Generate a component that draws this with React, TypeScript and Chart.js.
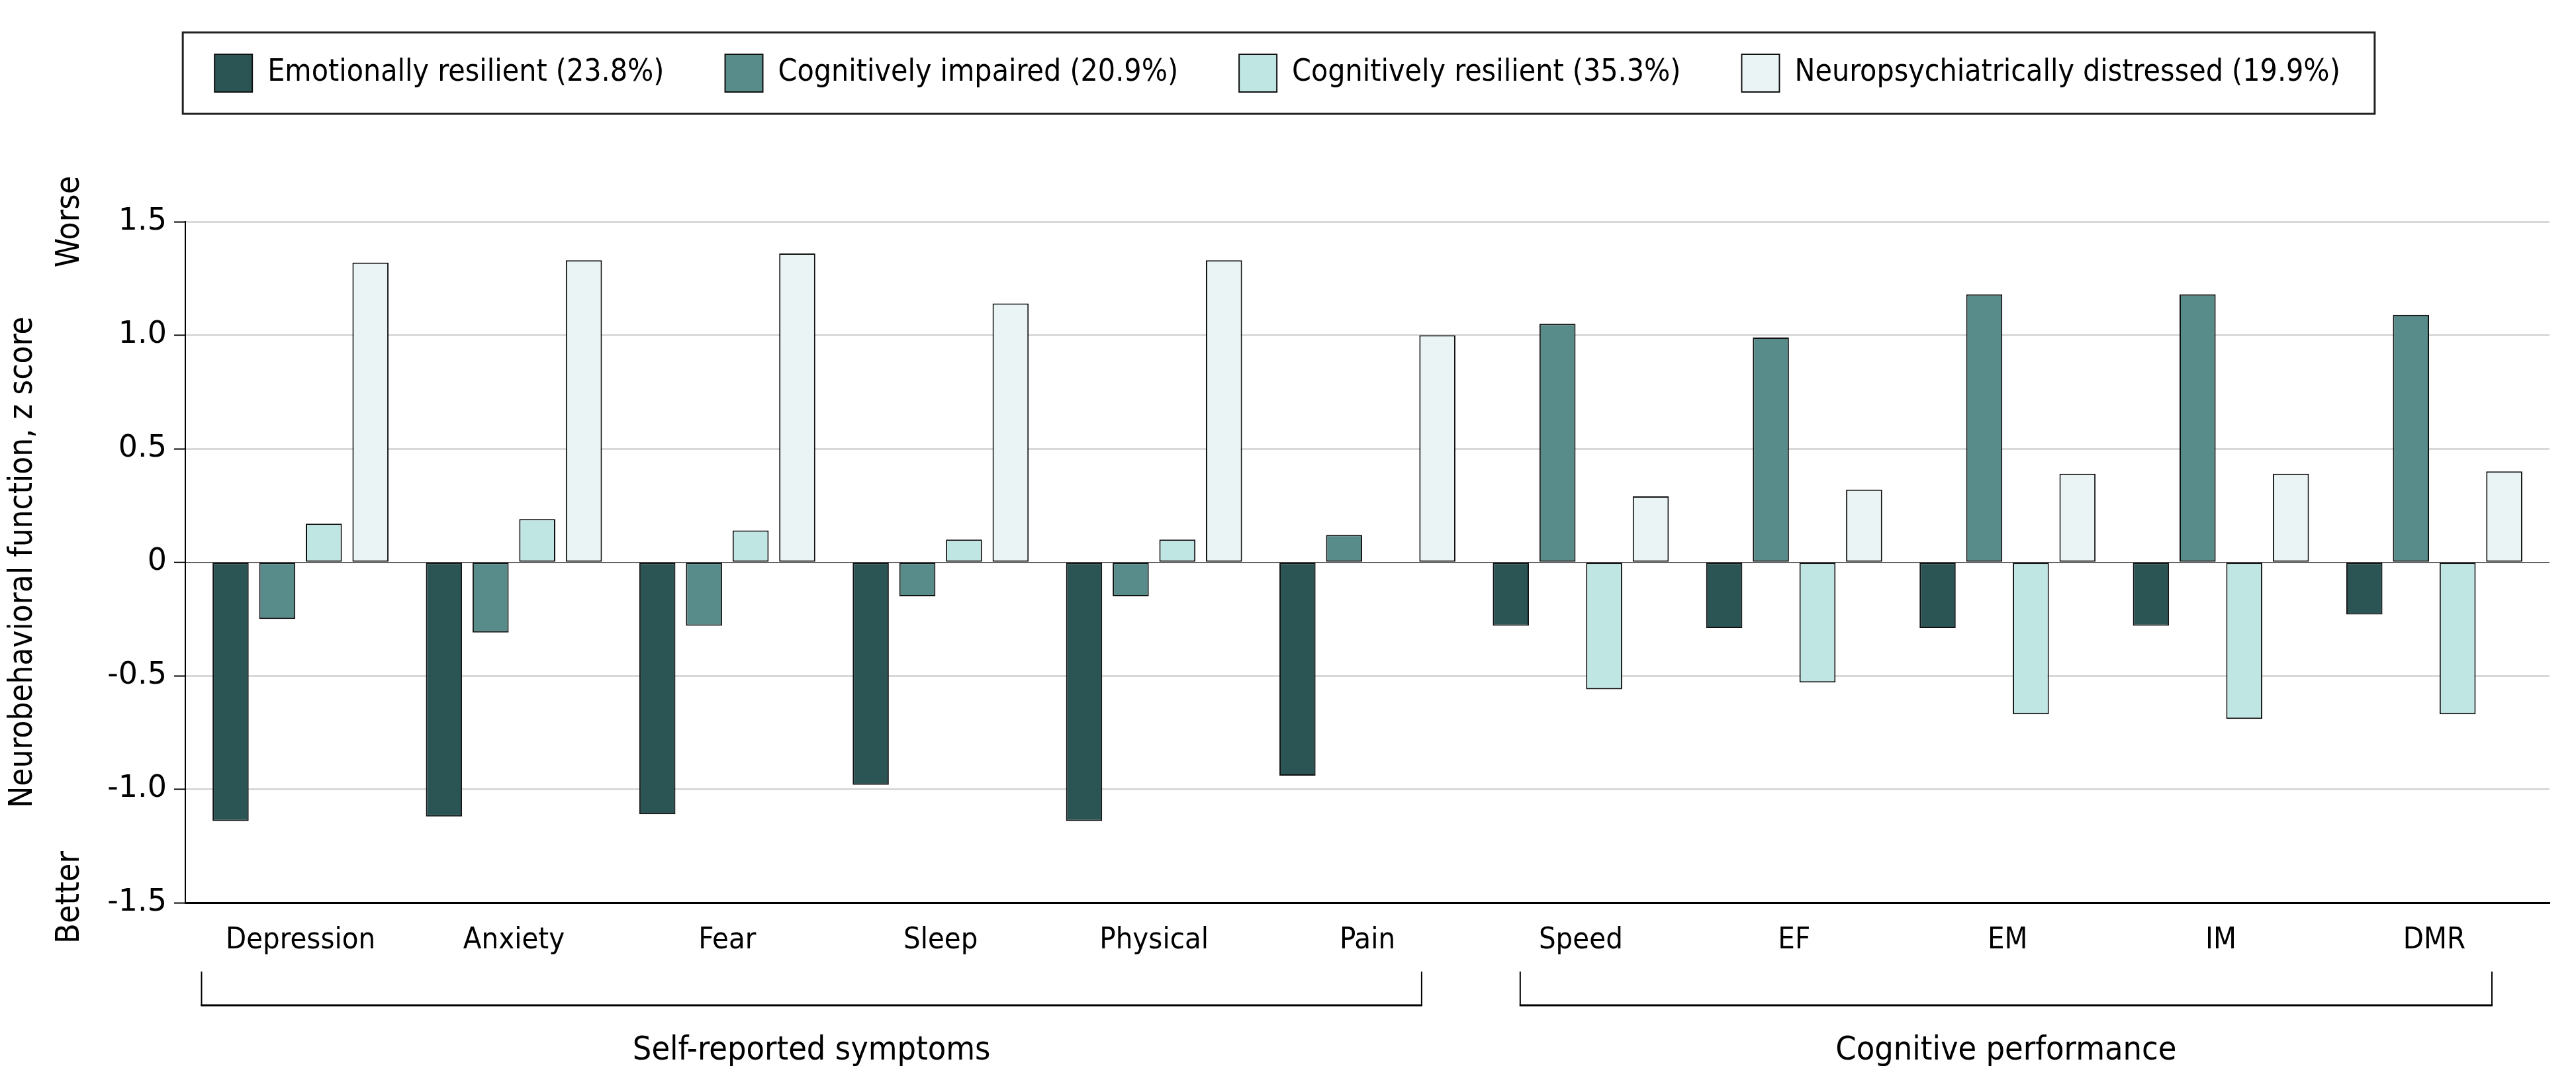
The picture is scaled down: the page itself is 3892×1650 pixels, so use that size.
import React, { useEffect, useRef } from 'react';
import { Chart, registerables } from 'chart.js';

Chart.register(...registerables);

// ---------------- data ----------------
const categories = ['Depression', 'Anxiety', 'Fear', 'Sleep', 'Physical', 'Pain', 'Speed', 'EF', 'EM', 'IM', 'DMR'];
const seriesNames = [
  'Emotionally resilient (23.8%)',
  'Cognitively impaired (20.9%)',
  'Cognitively resilient (35.3%)',
  'Neuropsychiatrically distressed (19.9%)',
];
const emotionallyResilient = [-1.14, -1.12, -1.11, -0.98, -1.14, -0.94, -0.28, -0.29, -0.29, -0.28, -0.23];
const cognitivelyImpaired = [-0.25, -0.31, -0.28, -0.15, -0.15, 0.12, 1.05, 0.99, 1.18, 1.18, 1.09];
const cognitivelyResilient = [0.17, 0.19, 0.14, 0.1, 0.1, 0, -0.56, -0.53, -0.67, -0.69, -0.67];
const neuropsychDistressed = [1.32, 1.33, 1.36, 1.14, 1.33, 1.0, 0.29, 0.32, 0.39, 0.39, 0.4];
const seriesValues = [emotionallyResilient, cognitivelyImpaired, cognitivelyResilient, neuropsychDistressed];

const yTicks = [-1.5, -1, -0.5, 0, 0.5, 1, 1.5];
const yTickLabels = ['-1.5', '-1.0', '-0.5', '0', '0.5', '1.0', '1.5'];
const yAxisTitle = 'Neurobehavioral function, z score';
const directionLabels = ['Worse', 'Better'];
const groupNames = ['Self-reported symptoms', 'Cognitive performance'];

// ---------------- layout / style ----------------
const W = 3876;
const H = 1634;
const TEXT_FONT = "'DejaVu Sans Condensed', 'Liberation Sans', sans-serif";
const TICK_FONT = "'DejaVu Sans', sans-serif";
const colors = ['#2b5454', '#578c8a', '#c0e6e4', '#eaf4f4'];
const groupSpans = [
  [-0.464, 5.254],
  [5.716, 10.27],
];
const LEGEND_GAP = 92;

const decorPlugin = {
  id: 'decor',
  afterDraw(chart: any) {
    const ctx = chart.ctx;
    const xs = chart.scales.x;
    const ys = chart.scales.y;
    const area = chart.chartArea;
    ctx.save();
    // legend frame
    const boxes = chart.legend && chart.legend.legendHitBoxes;
    if (boxes && boxes.length) {
      const first = boxes[0];
      const last = boxes[boxes.length - 1];
      const cy = first.top + first.height / 2;
      const l = first.left - 48;
      const r = last.left + last.width + 52;
      ctx.strokeStyle = '#222';
      ctx.lineWidth = 3;
      ctx.strokeRect(l, cy - 61.5, r - l, 123);
    }
    // Worse / Better
    ctx.fillStyle = '#000';
    ctx.textAlign = 'center';
    ctx.textBaseline = 'middle';
    ctx.font = `50px ${TEXT_FONT}`;
    const dirVals = [1.5, -1.5];
    directionLabels.forEach((t, i) => {
      ctx.save();
      ctx.translate(98, ys.getPixelForValue(dirVals[i]) - (i === 1 ? 8 : 0));
      ctx.rotate(-Math.PI / 2);
      ctx.fillText(t, 0, 0);
      ctx.restore();
    });
    // brackets + group labels
    const top = area.bottom + 104;
    const bot = area.bottom + 155;
    groupSpans.forEach(([a, b], i) => {
      const xa = xs.getPixelForValue(a);
      const xb = xs.getPixelForValue(b);
      ctx.strokeStyle = '#000';
      ctx.lineWidth = 2;
      ctx.beginPath();
      ctx.moveTo(xa, top);
      ctx.lineTo(xa, bot);
      ctx.lineTo(xb, bot);
      ctx.lineTo(xb, top);
      ctx.stroke();
      ctx.lineWidth = 3;
      ctx.beginPath();
      ctx.moveTo(xa - 1, bot);
      ctx.lineTo(xb + 1, bot);
      ctx.stroke();
      ctx.font = `50px ${TEXT_FONT}`;
      ctx.fillText(groupNames[i], (xa + xb) / 2, area.bottom + 224);
    });
    ctx.restore();
  },
};

export default function App() {
  const ref = useRef<HTMLCanvasElement | null>(null);
  useEffect(() => {
    if (!ref.current) return;
    const chart = new Chart(ref.current, {
      type: 'bar',
      data: {
        datasets: seriesNames.map((name, k) => ({
          label: name,
          data: seriesValues[k].map((v, i) => ({ x: i, y: v })),
          backgroundColor: colors[k],
          borderColor: '#111',
          borderWidth: 2,
          borderSkipped: false,
          categoryPercentage: 0.874,
          barPercentage: 0.775,
        })),
      },
      options: {
        responsive: false,
        animation: false,
        events: [],
        layout: { padding: { top: 74 - LEGEND_GAP, left: 0, right: 32, bottom: 0 } },
        plugins: {
          legend: {
            position: 'top',
            labels: {
              boxWidth: 57,
              boxHeight: 57,
              padding: LEGEND_GAP,
              color: '#000',
              font: { family: TEXT_FONT, size: 46 },
            },
          },
          title: {
            display: true,
            text: ' ',
            weight: 500,
            position: 'top',
            padding: { top: 176, bottom: 0 },
            font: { size: 10, lineHeight: 1 },
          },
          tooltip: { enabled: false },
        },
        scales: {
          x: {
            type: 'linear',
            min: -0.54,
            max: 10.54,
            offset: false,
            afterBuildTicks: (s: any) => {
              s.ticks = categories.map((_, i) => ({ value: i }));
            },
            afterFit: (s: any) => {
              s.height = 278;
            },
            grid: { display: false, drawTicks: false },
            border: { display: true, color: '#000', width: 3 },
            ticks: {
              callback: (v: any) => categories[v] ?? '',
              autoSkip: false,
              maxRotation: 0,
              minRotation: 0,
              padding: 30,
              color: '#000',
              font: { family: TEXT_FONT, size: 45 },
            },
          },
          y: {
            min: -1.5,
            max: 1.5,
            afterBuildTicks: (s: any) => {
              s.ticks = yTicks.map((v) => ({ value: v }));
            },
            afterFit: (s: any) => {
              s.width = 272;
            },
            ticks: {
              callback: (v: any) => yTickLabels[yTicks.indexOf(v)] ?? '',
              padding: 11,
              color: '#000',
              font: { family: TICK_FONT, size: 46 },
            },
            grid: {
              color: (c: any) => (c.tick && c.tick.value === 0 ? '#3a3a3a' : '#d9d9d9'),
              lineWidth: (c: any) => (c.tick && c.tick.value === 0 ? 1.5 : 3),
              tickColor: '#000',
              tickLength: 17,
              tickWidth: 2,
            },
            border: { color: '#000', width: 2 },
            title: {
              display: true,
              text: yAxisTitle,
              color: '#000',
              font: { family: TEXT_FONT, size: 49, lineHeight: 1 },
              padding: { top: 3, bottom: 0 },
            },
          },
        },
      } as any,
      plugins: [decorPlugin],
    });
    return () => chart.destroy();
  }, []);
  return (
    <canvas ref={ref} width={W} height={H} style={{ display: 'block', width: W + 'px', height: H + 'px' }} />
  );
}
